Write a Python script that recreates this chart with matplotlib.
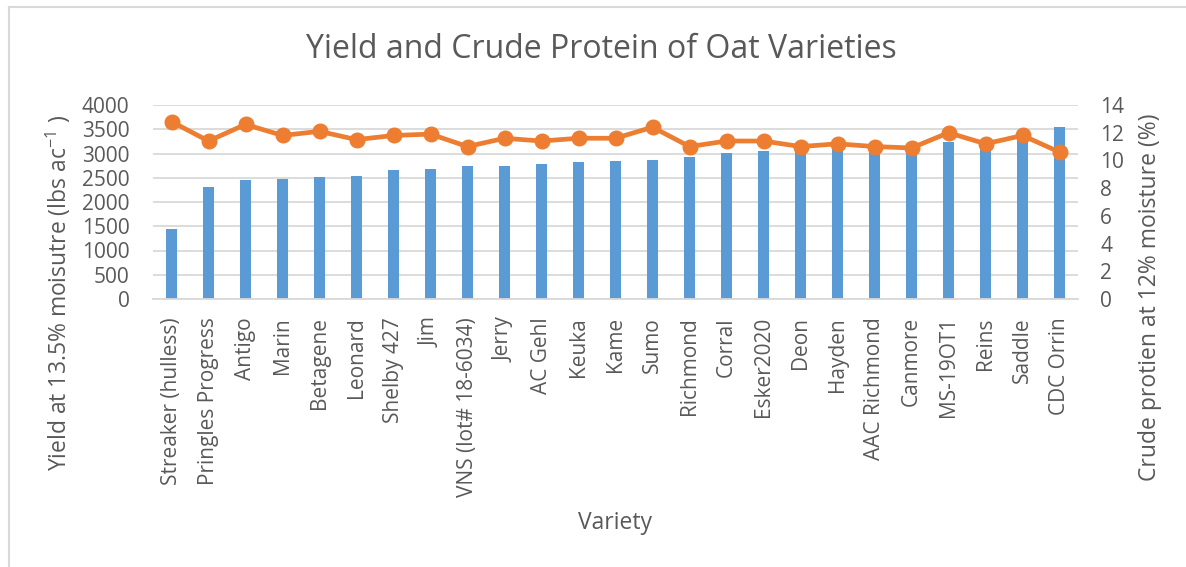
import matplotlib
matplotlib.use("Agg")
import matplotlib.pyplot as plt
from matplotlib.lines import Line2D
import numpy as np

plt.rcParams['font.family'] = ['Open Sans', 'DejaVu Sans']
plt.rcParams['mathtext.fontset'] = 'custom'
plt.rcParams['mathtext.rm'] = 'Open Sans'
plt.rcParams['mathtext.it'] = 'Open Sans'

varieties = ['Streaker (hulless)', 'Pringles Progress', 'Antigo', 'Marin', 'Betagene',
             'Leonard', 'Shelby 427', 'Jim', 'VNS (lot# 18-6034)', 'Jerry', 'AC Gehl',
             'Keuka', 'Kame', 'Sumo', 'Richmond', 'Corral', 'Esker2020', 'Deon', 'Hayden',
             'AAC Richmond', 'Canmore', 'MS-19OT1', 'Reins', 'Saddle', 'CDC Orrin']
yield_lbs = [1450, 2300, 2460, 2470, 2520, 2530, 2650, 2690, 2740, 2745, 2780,
             2820, 2840, 2870, 2930, 3020, 3050, 3080, 3095, 3100, 3120, 3240,
             3260, 3350, 3550]
protein = [12.8, 11.4, 12.6, 11.8, 12.1, 11.5, 11.8, 11.9, 11.0, 11.6, 11.4,
           11.6, 11.6, 12.4, 11.0, 11.4, 11.4, 11.0, 11.2, 11.0, 10.9, 12.0,
           11.2, 11.8, 10.6]

W, H = 1186, 567
fig = plt.figure(figsize=(W / 100, H / 100), dpi=100)
ax = fig.add_axes([153 / W, (H - 299) / H, (1078 - 153) / W, 194 / H])
ax2 = ax.twinx()

text_col = '#595959'
grid_col = '#D9D9D9'
x = np.arange(len(varieties))

ax.bar(x, yield_lbs, width=0.31, color='#5B9BD5', zorder=2)
ax2.plot(x, protein, color='#ED7D31', lw=3.4, marker='o', ms=10.5, zorder=3)

ax.set_xlim(-0.5, len(varieties) - 0.5)
ax.set_ylim(0, 4000)
ax.set_yticks(range(0, 4001, 500))
ax2.set_ylim(0, 14)
ax2.set_yticks(range(0, 15, 2))

ax.grid(axis='y', color=grid_col, lw=1.3, zorder=0)
ax.set_axisbelow(True)
for a in (ax, ax2):
    for s in a.spines.values():
        s.set_visible(False)
    a.tick_params(length=0, labelsize=15, colors=text_col)
ax.spines['bottom'].set_visible(True)
ax.spines['bottom'].set_color(grid_col)
ax.spines['bottom'].set_linewidth(1.3)

ax.tick_params(axis='y', pad=17)
ax2.tick_params(axis='y', pad=16)
ax.set_xticks(x)
ax.set_xticklabels(varieties, rotation=90)
ax.tick_params(axis='x', pad=13)

fig.text(601 / W, 1 - 50 / H, 'Yield and Crude Protein of Oat Varieties',
         ha='center', va='center', fontsize=23, color=text_col)
fig.text(58 / W, 1 - 293 / H, r'Yield at 13.5% moisutre (lbs ac$^{-1}$ )',
         ha='center', va='center', rotation=90, fontsize=16.5, color=text_col)
fig.text(1150 / W, 1 - 297 / H, 'Crude protien at 12% moisture (%)',
         ha='center', va='center', rotation=90, fontsize=16.5, color=text_col)
fig.text(615 / W, 1 - 523 / H, 'Variety',
         ha='center', va='center', fontsize=16.5, color=text_col)

# chart border (left and top edges only)
fig.add_artist(Line2D([9 / W, 9 / W], [0, 1 - 7 / H], color=grid_col, lw=1.5))
fig.add_artist(Line2D([9 / W, 1], [1 - 7 / H, 1 - 7 / H], color=grid_col, lw=1.5))

fig.savefig('out.png', dpi=100)
